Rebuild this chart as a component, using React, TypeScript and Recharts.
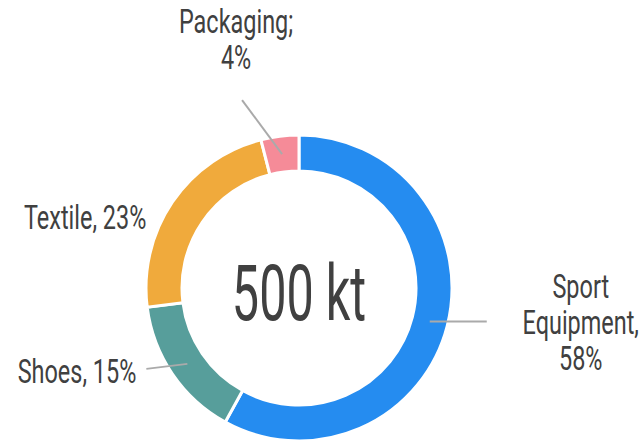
import React from 'react';
import { PieChart, Pie, Cell } from 'recharts';

const categories = ['Sport Equipment', 'Shoes', 'Textile', 'Packaging'];
const shares = [58, 15, 23, 4];
const colors = ['#258cf0', '#579e9b', '#f0aa3c', '#f58b98'];
const labelLines = [['Sport', 'Equipment,', '58%'], ['Shoes, 15%'], ['Textile, 23%'], ['Packaging;', '4%']];
const totalLabel = '500 kt';

const data = categories.map((name, i) => ({ name, value: shares[i] }));

// label placement relative to the slice midpoint (dx/dy in px)
const layout = [
  { line: [57, 0], text: [151, -24], anchor: 'middle', showLine: true, lh: 36 },
  { line: [-41, 5], text: [-51, 19], anchor: 'end', showLine: true, lh: 36 },
  { line: [0, 0], text: [-41, 17], anchor: 'end', showLine: false, lh: 36 },
  { line: [-40, -54], text: [-46, -121], anchor: 'middle', showLine: true, lh: 36 },
];

const RADIAN = Math.PI / 180;
const FONT = 'Roboto, "Liberation Sans", sans-serif';
const SQUASH = 0.69;

const renderLabel = (props: any) => {
  const { cx, cy, midAngle, innerRadius, outerRadius, index } = props;
  const r = (innerRadius + outerRadius) / 2;
  const x = cx + r * Math.cos(-midAngle * RADIAN);
  const y = cy + r * Math.sin(-midAngle * RADIAN);
  const l = layout[index];
  const tx = x + l.text[0];
  const ty = y + l.text[1];
  return (
    <g key={`lbl-${index}`}>
      {l.showLine && (
        <line x1={x} y1={y} x2={x + l.line[0]} y2={y + l.line[1]} stroke="#aaaaaa" strokeWidth={2} />
      )}
      {labelLines[index].map((t, j) => (
        <text
          key={j}
          transform={`translate(${tx},${ty + j * l.lh}) scale(${SQUASH},1)`}
          textAnchor={l.anchor}
          fill="#404040"
          fontSize={34}
          fontFamily={FONT}
        >
          {t}
        </text>
      ))}
    </g>
  );
};

const App: React.FC = () => {
  return (
    <div style={{ position: 'absolute', left: 0, top: 0, width: 641, height: 441, background: '#fff' }}>
      <PieChart width={641} height={441} margin={{ top: 0, right: 0, bottom: 0, left: 0 }}>
        <Pie
          data={data}
          dataKey="value"
          nameKey="name"
          cx={299}
          cy={288}
          innerRadius={117}
          outerRadius={153}
          startAngle={90}
          endAngle={-270}
          stroke="#ffffff"
          strokeWidth={3}
          label={renderLabel}
          labelLine={false}
          isAnimationActive={false}
        >
          {data.map((d, i) => (
            <Cell key={d.name} fill={colors[i]} />
          ))}
        </Pie>
        <text
          transform={`translate(299,320) scale(0.63,1)`}
          textAnchor="middle"
          fill="#404040"
          fontSize={77}
          fontFamily={FONT}
        >
          {totalLabel}
        </text>
      </PieChart>
    </div>
  );
};

export default App;
